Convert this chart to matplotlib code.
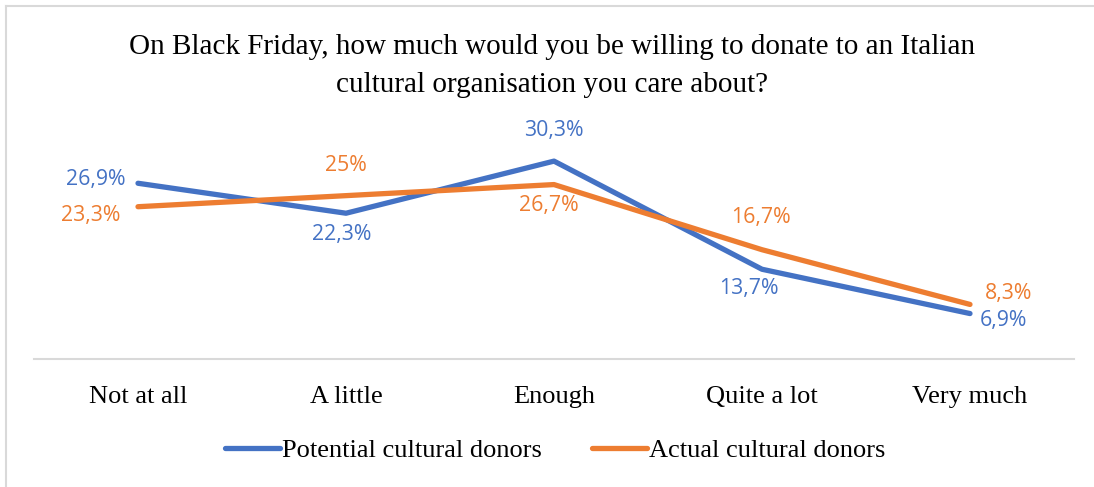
import matplotlib as mpl
import matplotlib.pyplot as plt
from matplotlib.lines import Line2D

mpl.rcParams["font.family"] = ["Liberation Serif", "DejaVu Serif"]

categories = ["Not at all", "A little", "Enough", "Quite a lot", "Very much"]
potential = [26.9, 22.3, 30.3, 13.7, 6.9]
actual = [23.3, 25.0, 26.7, 16.7, 8.3]
series_names = ["Potential cultural donors", "Actual cultural donors"]

title = ("On Black Friday, how much would you be willing to donate to an Italian\n"
         "cultural organisation you care about?")

BLUE = "#4472C4"
ORANGE = "#ED7D31"
GRID = "#D9D9D9"

# label offsets in pixels (dx, dy) relative to each point
potential_offsets = [(-42, 4), (-4, -21), (0, 31), (-13, -19), (33, -7)]
actual_offsets = [(-47, -9), (0, 30), (-5, -21), (-1, 32), (39, 11)]

W, H = 1094, 487
fig = plt.figure(figsize=(W / 100, H / 100), dpi=100)

# plot area in pixel coordinates
left, right, top, bottom = 34, 1074, 130.5, 358.5
ax = fig.add_axes([left / W, 1 - bottom / H, (right - left) / W, (bottom - top) / H])

x = list(range(len(categories)))
ax.plot(x, potential, color=BLUE, lw=3.8, solid_capstyle="round",
        solid_joinstyle="round", zorder=3)
ax.plot(x, actual, color=ORANGE, lw=3.8, solid_capstyle="round",
        solid_joinstyle="round", zorder=3)


def fmt(v):
    s = f"{v:.1f}".rstrip("0").rstrip(".")
    return s.replace(".", ",") + "%"


for vals, offs, col in [(potential, potential_offsets, BLUE),
                        (actual, actual_offsets, ORANGE)]:
    for i, (v, (dx, dy)) in enumerate(zip(vals, offs)):
        ax.annotate(fmt(v), (i, v), xytext=(dx, dy), textcoords="offset pixels",
                    ha="center", va="center", color=col, fontsize=15.3,
                    family=["Open Sans", "DejaVu Sans"])

ax.set_xlim(-0.5, len(categories) - 0.5)
ax.set_ylim(0, 35)
ax.set_xticks(x)
ax.set_xticklabels(categories, fontsize=19)
ax.tick_params(axis="x", length=0, pad=20)
ax.set_yticks([])
for side in ["left", "right", "top"]:
    ax.spines[side].set_visible(False)
ax.spines["bottom"].set_color(GRID)
ax.spines["bottom"].set_linewidth(1.5)

fig.text(552 / W, 1 - 66 / H, title, ha="center", va="center", fontsize=21,
         linespacing=1.65)

handles = [Line2D([], [], color=BLUE, lw=3.8, solid_capstyle="round"),
           Line2D([], [], color=ORANGE, lw=3.8, solid_capstyle="round")]
fig.legend(handles, series_names, loc="center", bbox_to_anchor=(555 / W, 1 - 450 / H),
           ncol=2, frameon=False, fontsize=19, handlelength=2.1,
           handletextpad=0.05, columnspacing=1.9, borderaxespad=0)

# chart border (top and left edges visible)
fig.add_artist(Line2D([5.5 / W, 5.5 / W], [0, 1 - 5.5 / H], color=GRID, lw=1.5,
                      transform=fig.transFigure))
fig.add_artist(Line2D([5.5 / W, 1], [1 - 5.5 / H, 1 - 5.5 / H], color=GRID, lw=1.5,
                      transform=fig.transFigure))

fig.savefig("out.png", dpi=100)
